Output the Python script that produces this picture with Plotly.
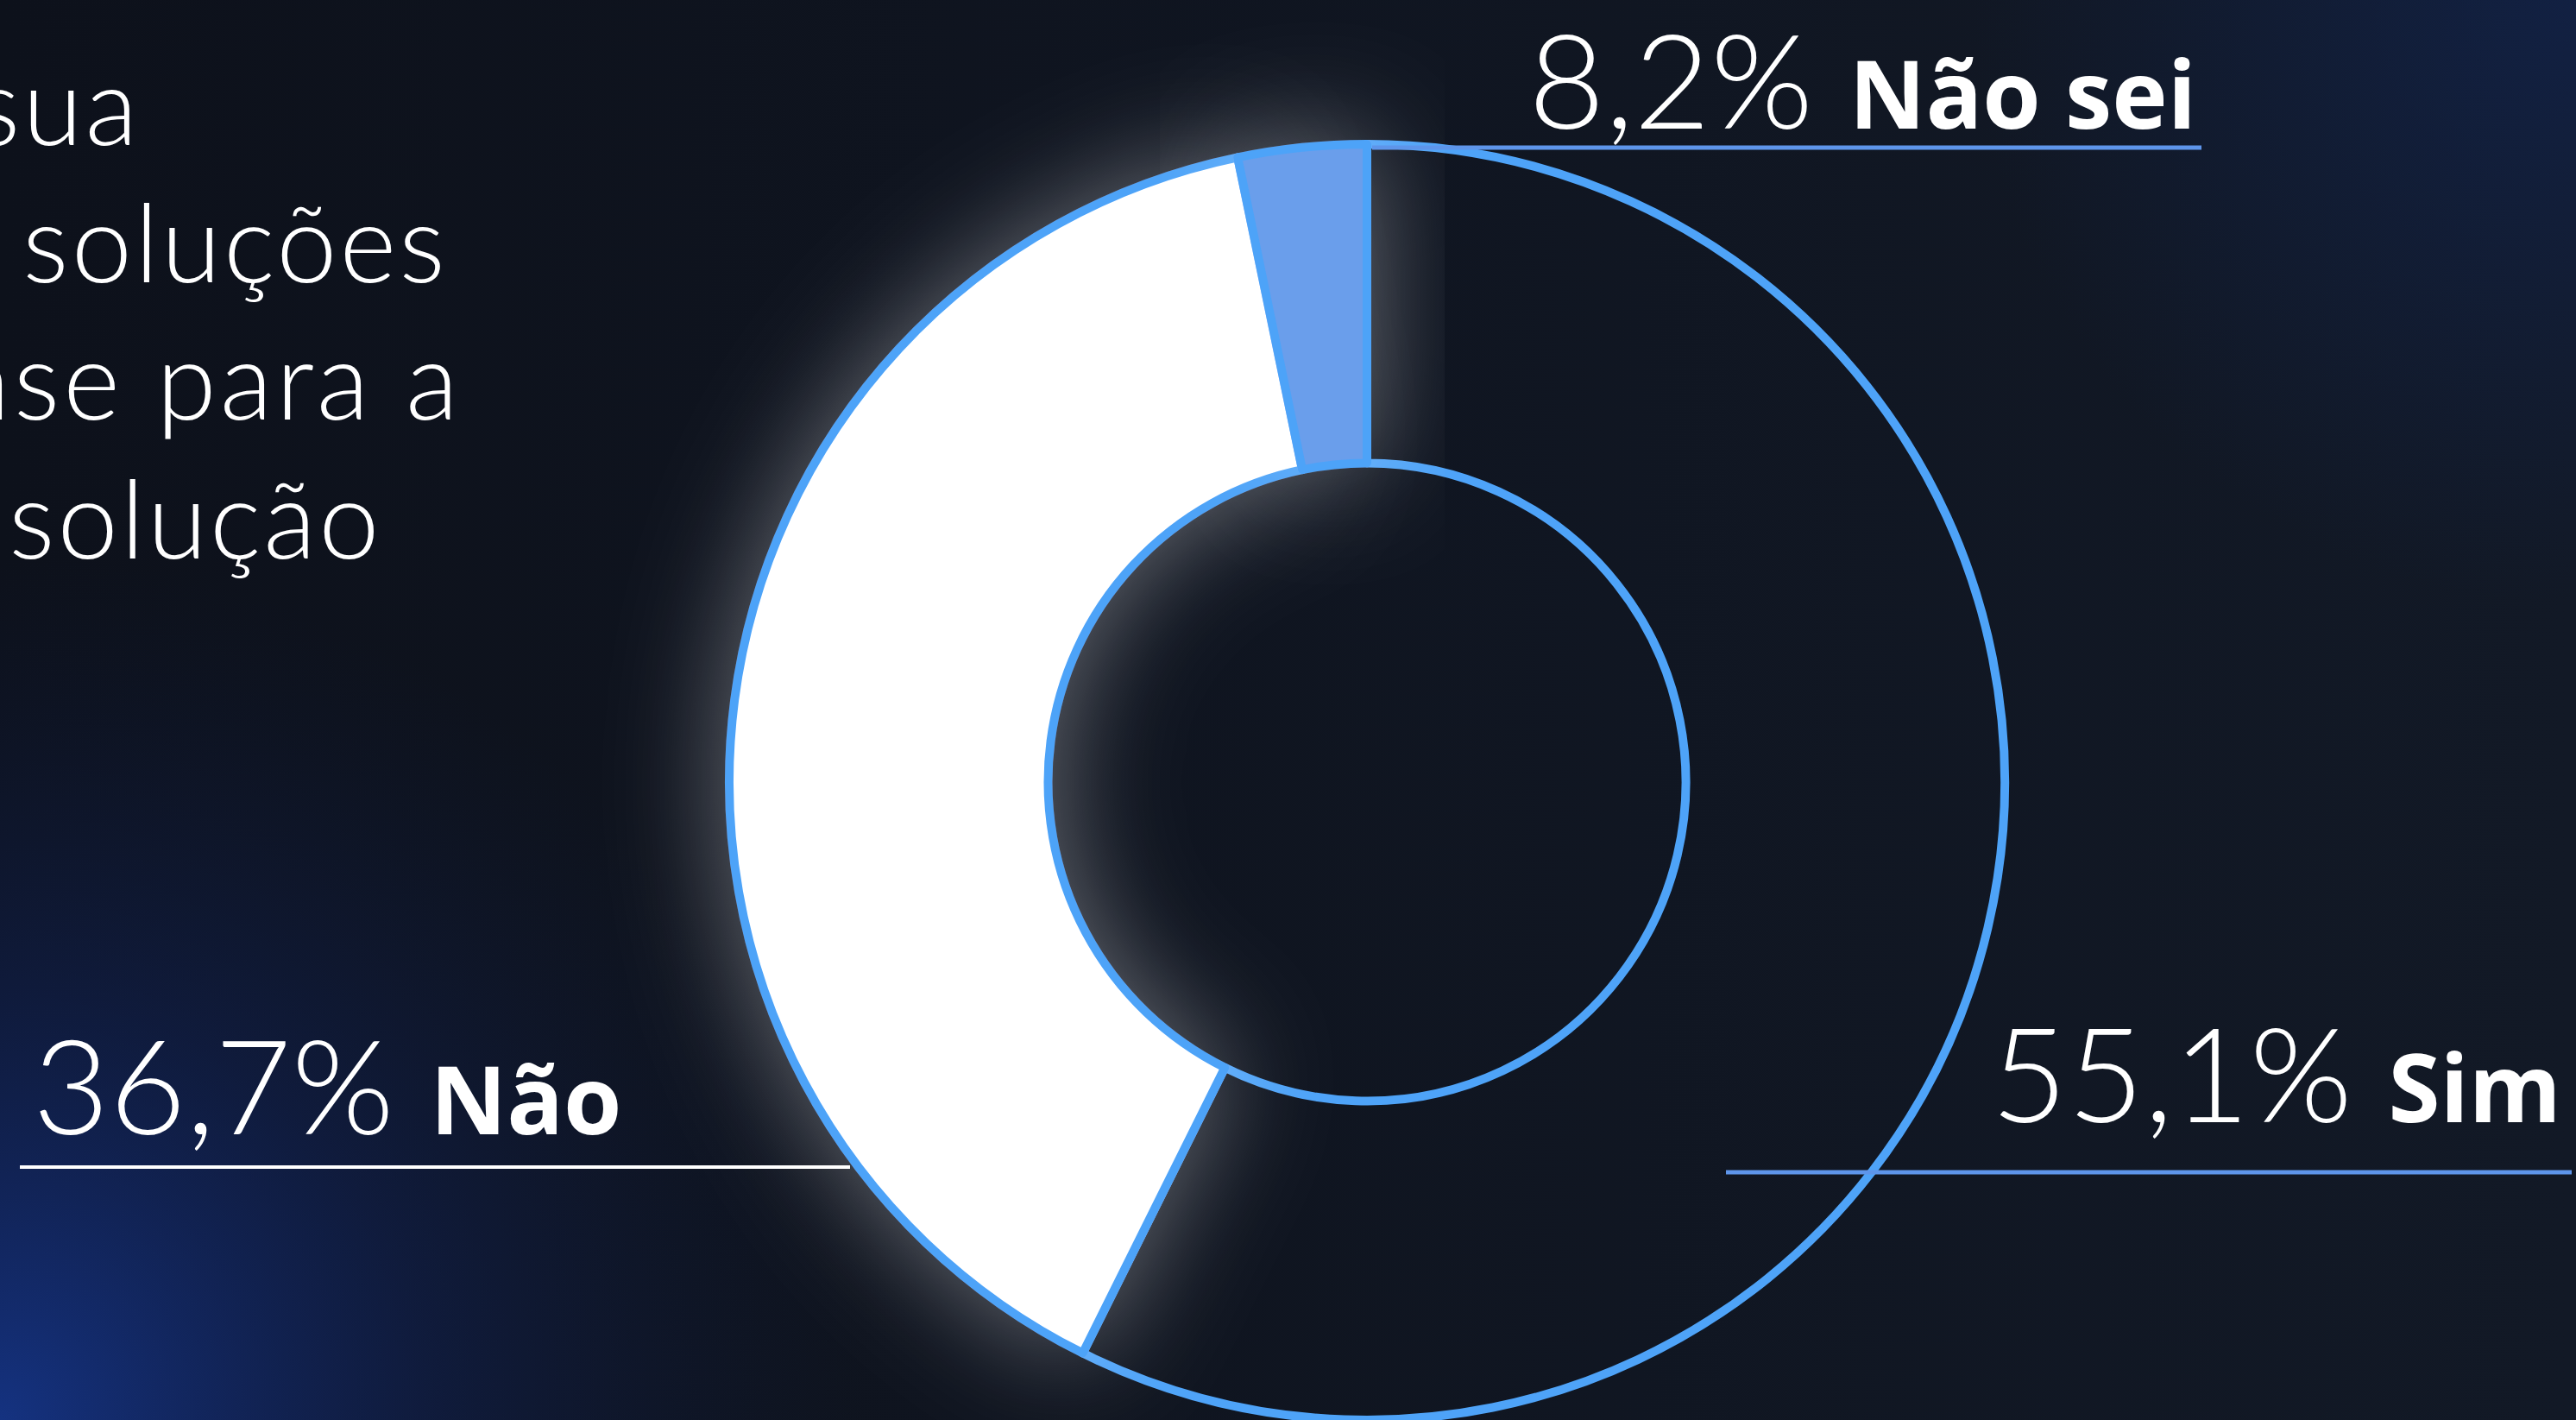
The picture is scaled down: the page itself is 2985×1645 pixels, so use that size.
import base64
import plotly.graph_objects as go

# ---------------- data ----------------
categories = ["Sim", "Não", "Não sei"]
label_pct = ["55,1%", "36,7%", "8,2%"]          # printed percentages
slice_share = [57.35, 39.4, 3.25]                # arc shares as drawn in the donut
slice_colors = ["rgba(0,0,0,0)", "#FFFFFF", "#6A9EEB"]
question_lines = ["Você acredita que sua", "empresa já utiliza\u00a0\u00a0\u00a0soluções",
                  "de IA como base para a", "sua solução"]
question_spacing = [3, 3, 4, 3]

W, H = 2985, 1645


def px(x):
    return x / W


def py(y):
    return 1 - y / H


# ---------------- background (decorative gradient) ----------------
bg_svg = f"""<svg xmlns='http://www.w3.org/2000/svg' width='{W}' height='{H}'>
<defs>
<radialGradient id='bl' cx='0' cy='{H}' r='1000' gradientUnits='userSpaceOnUse'>
<stop offset='0' stop-color='#153486' stop-opacity='0.95'/>
<stop offset='0.5' stop-color='#12286a' stop-opacity='0.4'/>
<stop offset='1' stop-color='#0f1d45' stop-opacity='0'/></radialGradient>
<radialGradient id='tr' cx='{W}' cy='0' r='700' gradientUnits='userSpaceOnUse'>
<stop offset='0' stop-color='#12275a' stop-opacity='0.55'/>
<stop offset='1' stop-color='#12275a' stop-opacity='0'/></radialGradient>
<linearGradient id='base' x1='0' y1='0' x2='1' y2='0'>
<stop offset='0' stop-color='#0d111b'/><stop offset='1' stop-color='#121926'/></linearGradient>
</defs>
<rect width='100%' height='100%' fill='url(#base)'/>
<rect width='100%' height='100%' fill='url(#bl)'/>
<rect width='100%' height='100%' fill='url(#tr)'/>
</svg>"""
bg_uri = "data:image/svg+xml;base64," + base64.b64encode(bg_svg.encode()).decode()

fig = go.Figure()

# donut: center (1584, 907), radius ~739
fig.add_trace(go.Pie(
    labels=categories,
    values=slice_share,
    sort=False,
    direction="clockwise",
    rotation=0,
    hole=0.5,
    marker=dict(colors=slice_colors, line=dict(color="#4EA3F8", width=10)),
    textinfo="none",
    hoverinfo="skip",
    showlegend=False,
    domain=dict(x=[px(845), px(2323)], y=[0, py(167)]),
))

NUM_FONT = "Lato"
BOLD_FONT = "Open Sans"
NUM_SIZE = 153
BOLD_SIZE = 109


def label_text(pct, cat):
    return (f"{pct} <span style='font-family:{BOLD_FONT};font-weight:700;"
            f"font-size:{BOLD_SIZE}px'>{cat}</span>")


annotations = []
# question text (left, clipped by the page edge)
q_right = [165, 521, 537, 445]
q_base = [168, 327, 486, 647]
Q_SIZE = 126
for line, sp, xr, yb in zip(question_lines, question_spacing, q_right, q_base):
    annotations.append(dict(
        text=f"<span style='letter-spacing:{sp}px'>{line}</span>",
        xref="paper", yref="paper", x=px(xr), y=py(yb + 0.213 * Q_SIZE + 2),
        xanchor="right", yanchor="bottom", showarrow=False,
        font=dict(family=NUM_FONT, size=Q_SIZE, color="#FFFFFF", weight=300),
    ))

# labels
label_pos = {
    "Não sei": dict(x=2547, base=149, anchor="right"),
    "Não": dict(x=36, base=1314, anchor="left"),
    "Sim": dict(x=2970, base=1300, anchor="right"),
}
for cat, pct in zip(categories, label_pct):
    p = label_pos[cat]
    annotations.append(dict(
        text=label_text(pct, cat), xref="paper", yref="paper",
        x=px(p["x"]), y=py(p["base"] + 0.213 * NUM_SIZE + 2),
        xanchor=p["anchor"], yanchor="bottom", showarrow=False,
        font=dict(family=NUM_FONT, size=NUM_SIZE, color="#FFFFFF", weight=300),
    ))

# leader lines
shapes = [
    dict(type="line", xref="paper", yref="paper", x0=px(1590), x1=px(2551), y0=py(171), y1=py(171),
         line=dict(color="#5E95EA", width=5), layer="above"),
    dict(type="line", xref="paper", yref="paper", x0=px(23), x1=px(985), y0=py(1352), y1=py(1352),
         line=dict(color="#FFFFFF", width=4), layer="above"),
    dict(type="line", xref="paper", yref="paper", x0=px(2000), x1=px(2980), y0=py(1358), y1=py(1358),
         line=dict(color="#5E95EA", width=5), layer="above"),
]

fig.update_layout(
    width=W, height=H, autosize=False,
    margin=dict(l=0, r=0, t=0, b=0),
    paper_bgcolor="#0e131d", plot_bgcolor="rgba(0,0,0,0)",
    images=[dict(source=bg_uri, xref="paper", yref="paper", x=0, y=1, sizex=1, sizey=1,
                 xanchor="left", yanchor="top", sizing="stretch", layer="below")],
    annotations=annotations,
    shapes=shapes,
)

post = """
document.body.style.margin = '0';
var gd = document.getElementById('{plot_id}');
var svg = gd.querySelector('svg.main-svg');
var ns = 'http://www.w3.org/2000/svg';
var defs = svg.querySelector('defs');
var f = document.createElementNS(ns, 'filter');
f.setAttribute('id', 'slice-glow');
f.setAttribute('x', '-60%'); f.setAttribute('y', '-60%');
f.setAttribute('width', '220%'); f.setAttribute('height', '220%');
f.innerHTML = "<feGaussianBlur in='SourceAlpha' stdDeviation='65' result='b'/>" +
  "<feFlood flood-color='#ffffff' flood-opacity='0.38'/>" +
  "<feComposite in2='b' operator='in' result='g'/>" +
  "<feMerge><feMergeNode in='g'/><feMergeNode in='SourceGraphic'/></feMerge>";
defs.appendChild(f);
var sl = gd.querySelectorAll('.pielayer .slice path.surface');
for (var i = 1; i < sl.length; i++) { sl[i].setAttribute('filter', 'url(#slice-glow)'); }
"""

fig.write_html("out.html", post_script=post, config={"displayModeBar": False})
